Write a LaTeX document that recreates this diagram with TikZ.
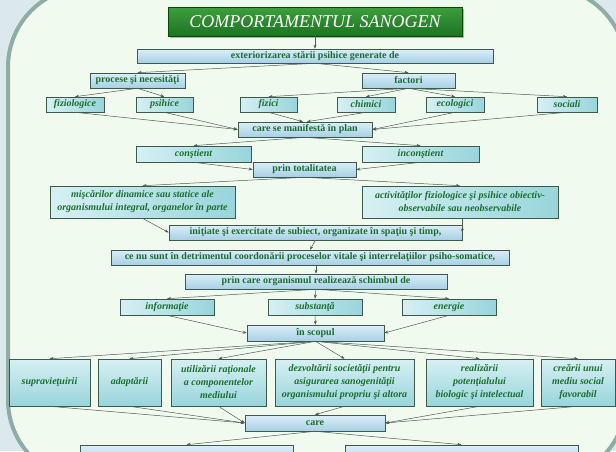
\documentclass[tikz,border=0pt]{standalone}
\usepackage{fontspec}
\setmainfont{Liberation Serif}
\usetikzlibrary{arrows.meta,shadows}

\definecolor{bgout}{HTML}{DCE9EC}
\definecolor{bgin}{HTML}{F1FAEF}
\definecolor{frameline}{HTML}{8EADA4}
\definecolor{ink}{HTML}{1C6E30}
\definecolor{boxedge}{HTML}{3E5A4C}
\definecolor{wire}{HTML}{4A5E52}
\definecolor{tipcol}{HTML}{2F4A35}
\definecolor{flatT}{HTML}{DCEEF8}
\definecolor{flatB}{HTML}{A6D0E5}
\definecolor{cardL}{HTML}{D6F0F3}
\definecolor{cardR}{HTML}{98D5DB}
\definecolor{greenT}{HTML}{3E9E3E}
\definecolor{greenB}{HTML}{1D7322}

\tikzset{
  base/.style={draw=boxedge, line width=0.6pt, inner sep=0pt, align=center,
    text=ink, font=\fontsize{10}{13}\selectfont\bfseries,
    drop shadow={shadow xshift=1.4pt, shadow yshift=-1.4pt, opacity=0.4, fill=black!70}},
  flat/.style={base, top color=flatT, bottom color=flatB},
  card/.style={base, left color=cardL, right color=cardR,
    font=\fontsize{10}{13}\selectfont\bfseries\itshape},
  tallcard/.style={card, minimum height=47pt, top color=cardL, bottom color=cardR},
  titlebox/.style={draw=green!30!black, line width=0.6pt, top color=greenT, bottom color=greenB,
    text=white, font=\fontsize{18}{20}\selectfont\itshape, inner sep=0pt,
    drop shadow={shadow xshift=1.5pt, shadow yshift=-1.5pt, opacity=0.4, fill=black!70}},
  link/.style={draw=wire, line width=0.5pt, -{Stealth[length=4pt,width=3pt,fill=tipcol]}},
}

\begin{document}
\begin{tikzpicture}[x=1pt,y=-1pt]
\useasboundingbox (0,0) rectangle (616,451);
\clip (0,0) rectangle (616,451);

% page background and rounded frame
\fill[bgout] (0,0) rectangle (616,451);
\draw[line width=4pt, draw=frameline, fill=bgin, rounded corners=80pt] (8,-13) rectangle (626,480);

% title and first level
\node[titlebox, minimum width=294pt, minimum height=29pt] (title) at (315,21.5) {COMPORTAMENTUL SANOGEN};
\node[flat, minimum width=356pt, minimum height=14pt] (ext) at (315,56) {exteriorizarea stării psihice generate de};
\node[flat, minimum width=95pt, minimum height=15pt] (proc) at (137.5,80.5) {procese şi necesităţi};
\node[flat, minimum width=93pt, minimum height=15pt] (fact) at (408.5,80.5) {factori};

% kinds of processes and factors
\node[card, minimum width=58pt, minimum height=15pt] (fiziol) at (75,104.5) {fiziologice};
\node[card, minimum width=57pt, minimum height=15pt] (psih) at (164.5,104.5) {psihice};
\node[card, minimum width=57pt, minimum height=15pt] (fizici) at (268.5,104.5) {fizici};
\node[card, minimum width=58pt, minimum height=15pt] (chim) at (366,104.5) {chimici};
\node[card, minimum width=58pt, minimum height=15pt] (ecol) at (455,104.5) {ecologici};
\node[card, minimum width=60pt, minimum height=15pt] (soc) at (567,104.5) {sociali};

\node[flat, minimum width=134pt, minimum height=15pt] (plan) at (305,129.5) {care se manifestă în plan};
\node[card, minimum width=115pt, minimum height=16pt] (consc) at (193.5,154) {conştient};
\node[card, minimum width=117pt, minimum height=16pt] (incon) at (420.5,154) {inconştient};
\node[flat, minimum width=103pt, minimum height=15pt] (tot) at (304.5,169.5) {prin totalitatea};

\node[card, minimum width=185pt, minimum height=32pt] (misc) at (142.5,202)
  {mişcărilor dinamice sau statice ale\\organismului integral, organelor în parte};
\node[card, minimum width=196pt, minimum height=32pt] (activ) at (460,202)
  {activităţilor fiziologice şi psihice obiectiv-\\observabile sau neobservabile};

\node[flat, minimum width=293pt, minimum height=15pt] (init) at (315.5,232.5)
  {iniţiate şi exercitate de subiect, organizate în spaţiu şi timp,};
\node[flat, minimum width=398pt, minimum height=15pt] (cenu) at (310,257.5)
  {ce nu sunt în detrimentul coordonării proceselor vitale şi interrelaţiilor psiho-somatice,};
\node[flat, minimum width=262pt, minimum height=15pt] (schimb) at (316,281.5)
  {prin care organismul realizează schimbul de};

\node[card, minimum width=94pt, minimum height=16pt] (info) at (167,307) {informaţie};
\node[card, minimum width=94pt, minimum height=16pt] (subst) at (315,307) {substanţă};
\node[card, minimum width=94pt, minimum height=16pt] (energ) at (449,307) {energie};

\node[flat, minimum width=137pt, minimum height=16pt] (scop) at (315.5,333) {în scopul};

% aims
\node[tallcard, minimum width=81pt] (supr) at (49.5,382.5) {supravieţuirii};
\node[tallcard, minimum width=63pt] (adapt) at (129.5,382.5) {adaptării};
\node[tallcard, minimum width=95pt] (util) at (218.5,382.5) {utilizării raţionale\\a componentelor\\mediului};
\node[tallcard, minimum width=139pt] (dezv) at (344.5,382.5) {dezvoltării societăţii pentru\\asigurarea sanogenităţii\\organismului propriu şi altora};
\node[tallcard, minimum width=107pt] (realiz) at (479.5,382.5) {realizării\\potenţialului\\biologic şi intelectual};
\node[tallcard, minimum width=74pt] (crear) at (578,382.5) {creării unui\\mediu social\\favorabil};

\node[flat, minimum width=140pt, minimum height=16pt] (care) at (315,423) {care};
\node[flat, minimum width=213pt, minimum height=22pt] (botL) at (186.5,456) {};
\node[flat, minimum width=233pt, minimum height=22pt] (botR) at (461.5,456) {};

% connectors
\draw[link] (title.south) -- (ext.north);
\draw[link] (ext.south) -- (proc.north);
\draw[link] (ext.south) -- (fact.north);
\draw[link] (proc.south) -- (fiziol.north);
\draw[link] (proc.south) -- (psih.north);
\foreach \t in {fizici,chim,ecol,soc} \draw[link] (fact.south) -- (\t.north);

\draw[link] (fiziol.south) -- (plan.west);
\draw[link] (psih.south) -- (plan.west);
\draw[link] (fizici.south) -- ([xshift=-2pt]plan.north);
\draw[link] (chim.south) -- ([xshift=2pt]plan.north);
\draw[link] (ecol.south) -- (plan.east);
\draw[link] (soc.south) -- (plan.east);

\draw[link] (plan.south) -- (consc.north);
\draw[link] (plan.south) -- (incon.north);
\draw[link] (consc.south) -- (tot.west);
\draw[link] (incon.south) -- (tot.east);
\draw[link] (tot.south) -- (misc.north);
\draw[link] (tot.south) -- (activ.north);

\draw[link] (misc.south) -- (init.west);
\draw[link] (activ.south -| init.east) -- (init.east);
\draw[link] (init.south) -- (cenu.north);
\draw[link] (cenu.south -| schimb.north) -- (schimb.north);

\foreach \t in {info,subst,energ} \draw[link] (schimb.south) -- (\t.north);
\draw[link] (info.south) -- (scop.west);
\draw[link] (subst.south) -- (scop.north);
\draw[link] (energ.south) -- (scop.east);

\foreach \t in {supr,adapt,util,dezv,realiz,crear} \draw[link] (scop.south) -- (\t.north);
\foreach \t in {supr,adapt,util} \draw[link] (\t.south) -- (care.west);
\draw[link] (dezv.south) -- (care.north);
\draw[link] (realiz.south) -- (care.east);
\draw[link] (crear.south) -- (care.east);

\draw[link] (care.south) -- (botL.north);
\draw[link] (care.south) -- (botR.north);
\end{tikzpicture}
\end{document}
